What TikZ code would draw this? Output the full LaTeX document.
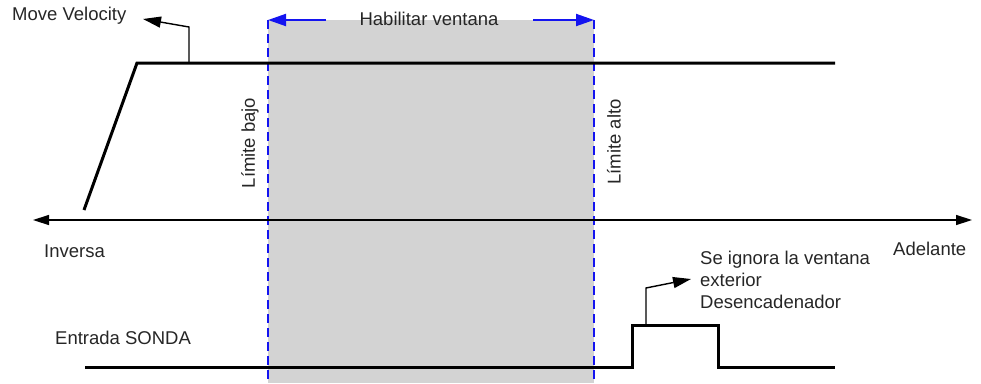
\documentclass[tikz,border=0pt]{standalone}
\usepackage{fontspec}
\setmainfont{Liberation Sans}
\usetikzlibrary{arrows.meta}
\definecolor{wingray}{RGB}{211,211,211}
\definecolor{winblue}{RGB}{20,20,240}
\tikzset{
  lbl/.style={inner sep=0pt, font=\fontsize{18.5}{22}\selectfont, text=black!85},
  sig/.style={line width=3pt, black},
  note/.style={line width=1.4pt, black, -{Triangle[length=18pt,width=11pt]}},
  axis/.style={line width=1.4pt, black, {Triangle[length=16pt,width=10pt]}-{Triangle[length=16pt,width=10pt]}},
  limit/.style={line width=1.6pt, winblue, dash pattern=on 9pt off 5pt},
  warrow/.style={line width=2pt, winblue, -{Triangle[length=18pt,width=12pt]}}
}
\begin{document}
\begin{tikzpicture}[x=1pt,y=-1pt]
\useasboundingbox (0,0) rectangle (981,383);
% window
\fill[wingray] (268,20) rectangle (594,383);
\coordinate (lbT) at (268,20);
\coordinate (lbB) at (268,383);
\coordinate (laT) at (594,20);
\coordinate (laB) at (594,383);
\draw[limit] (lbT) -- (lbB);
\draw[limit] (laT) -- (laB);
\node[lbl, anchor=center] (hab) at (429,19) {Habilitar ventana};
\coordinate (wl) at (326,20);
\coordinate (wr) at (533,20);
\draw[warrow] (wl) -- (lbT);
\draw[warrow] (wr) -- (laT);
% limit labels
\node[lbl, rotate=90] (bajo) at (250,143) {Límite bajo};
\node[lbl, rotate=90] (alto) at (614,142) {Límite alto};
% velocity profile
\coordinate (v0) at (84,210);
\coordinate (v1) at (137,63);
\coordinate (v2) at (835,63);
\draw[sig, line join=miter] (v0) -- (v1) -- (v2);
\node[lbl, anchor=west] (mv) at (12,16) {Move Velocity};
\coordinate (mvb) at (189,63);
\coordinate (mvk) at (189,27);
\coordinate (mvt) at (143,19);
\draw[note] (mvb) -- (mvk) -- (mvt);
% axis
\coordinate (axL) at (33,220);
\coordinate (axR) at (972,220);
\draw[axis] (axL) -- (axR);
\node[lbl, anchor=west] (inv) at (44,251) {Inversa};
\node[lbl, anchor=west] (adl) at (893,249) {Adelante};
% probe signal
\node[lbl, anchor=west] (ent) at (55,338) {Entrada SONDA};
\coordinate (p0) at (85,367);
\coordinate (p1) at (632,367);
\coordinate (p2) at (632,325);
\coordinate (p3) at (718,325);
\coordinate (p4) at (718,367);
\coordinate (p5) at (835,367);
\draw[sig, line join=miter] (p0) -- (p1) -- (p2) -- (p3) -- (p4) -- (p5);
\node[lbl, anchor=north west, align=left] (ign) at (700,251) {Se ignora la ventana\\exterior\\Desencadenador};
\coordinate (ib) at (646,325);
\coordinate (ik) at (646,288);
\coordinate (it) at (691,279);
\draw[note] (ib) -- (ik) -- (it);
\end{tikzpicture}
\end{document}
